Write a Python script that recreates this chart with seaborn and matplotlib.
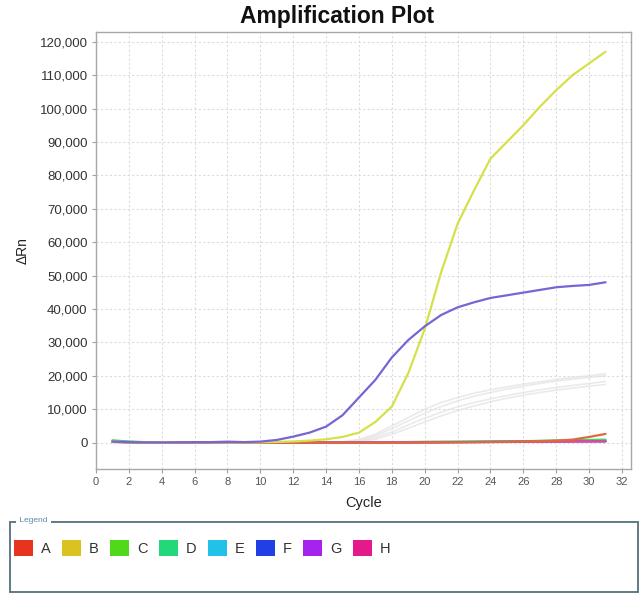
import numpy as np
import pandas as pd
import seaborn as sns
import matplotlib.pyplot as plt
from matplotlib.patches import Patch, Rectangle

cycles = list(range(1, 32))

# delta Rn per well
well_a = [200, 100, 50, 30, 50, 80, 50, 30, 20, 20, 20, 20, 20, 20, 20, 20,
          20, 20, 30, 50, 80, 100, 150, 200, 250, 350, 450, 600, 900, 1700, 2600]
well_b = [300, 150, 100, 50, 100, 150, 100, 50, 50, 100, 200, 350, 600, 1000, 1700, 3000,
          6200, 10800, 20800, 34000, 51000, 65500, 75500, 85000, 90000, 95000, 100500,
          105500, 110000, 113500, 117000]
well_c = [700, 300, 150, 100, 100, 150, 120, 100, 80, 80, 80, 80, 80, 80, 80, 100,
          100, 120, 150, 180, 200, 220, 250, 280, 320, 400, 500, 600, 700, 800, 900]
well_d = [500, 250, 120, 80, 100, 150, 120, 100, 80, 80, 80, 80, 80, 80, 100, 100,
          120, 150, 180, 200, 220, 250, 280, 320, 380, 450, 500, 550, 600, 650, 700]
well_e = [400, 200, 100, 80, 100, 120, 100, 80, 80, 80, 80, 80, 80, 80, 80, 80,
          100, 120, 150, 180, 200, 220, 250, 280, 300, 350, 380, 400, 420, 420, 420]
well_f = [300, 150, 100, 50, 100, 150, 150, 200, 150, 300, 800, 1800, 3000, 4800, 8200, 13500,
          18800, 25500, 30700, 34800, 38200, 40500, 42000, 43300, 44100, 44900, 45700,
          46500, 46900, 47200, 48000]
well_g = [300, 150, 80, 50, 80, 120, 150, 250, 150, 80, 60, 50, 50, 50, 50, 50,
          50, 60, 80, 100, 120, 150, 180, 200, 230, 260, 300, 330, 360, 380, 400]
well_h = [250, 120, 80, 50, 80, 100, 80, 60, 50, 50, 50, 50, 50, 50, 50, 50,
          50, 60, 80, 100, 120, 140, 160, 180, 200, 230, 260, 290, 320, 340, 360]

# faint grey traces of the wells that are not selected
grey_1 = [100] * 14 + [200, 1000, 2500, 5000, 7500, 10000, 12000, 13500, 14800, 15800,
                       16700, 17500, 18200, 18900, 19500, 20000, 20600]
grey_2 = [100] * 14 + [150, 700, 2000, 4200, 6500, 8800, 10800, 12500, 13900, 15000,
                       16000, 16900, 17700, 18400, 19000, 19500, 20000]
grey_3 = [100] * 15 + [500, 1500, 3200, 5300, 7300, 9100, 10700, 12000, 13100,
                       14100, 15000, 15800, 16500, 17100, 17700, 18300]
grey_4 = [100] * 15 + [300, 1000, 2500, 4300, 6200, 8000, 9600, 11000, 12200,
                       13300, 14200, 15000, 15700, 16300, 16900, 17400]

wells = ["A", "B", "C", "D", "E", "F", "G", "H"]
well_values = [well_a, well_b, well_c, well_d, well_e, well_f, well_g, well_h]
grey_values = [grey_1, grey_2, grey_3, grey_4]

line_colors = {"A": "#e0683a", "B": "#d6e04a", "C": "#5cd830", "D": "#28d890",
               "E": "#30c8e0", "F": "#7466d4", "G": "#9a50d8", "H": "#e04898"}
legend_colors = ["#e8341e", "#dcc21e", "#52d81a", "#22d87a",
                 "#22c2e8", "#2040e6", "#a424ee", "#e41a8a"]

df = pd.DataFrame({
    "Cycle": np.tile(cycles, len(wells)),
    "dRn": np.concatenate(well_values),
    "Well": np.repeat(wells, len(cycles)),
})
grey_df = pd.DataFrame({
    "Cycle": np.tile(cycles, len(grey_values)),
    "dRn": np.concatenate(grey_values),
    "Trace": np.repeat(range(len(grey_values)), len(cycles)),
})

sns.set_theme(style="white")
plt.rcParams["font.family"] = ["Liberation Sans", "DejaVu Sans"]

fig = plt.figure(figsize=(6.43, 6.02), dpi=100)
ax = fig.add_axes([0.1493, 0.2209, 0.8320, 0.7259])

sns.lineplot(data=grey_df, x="Cycle", y="dRn", units="Trace", estimator=None,
             color="#e2e2e2", alpha=0.7, linewidth=1.2, ax=ax, legend=False)
# draw the near-zero wells first, the two big curves on top
order = ["C", "D", "E", "G", "H", "A", "B", "F"]
for w in order:
    sns.lineplot(data=df[df["Well"] == w], x="Cycle", y="dRn", color=line_colors[w],
                 linewidth=1.6, ax=ax, legend=False)

ax.set_xlim(0, 32.55)
ax.set_ylim(-7900, 122900)
ax.set_xticks(range(0, 33, 2))
ax.set_yticks(range(0, 120001, 10000))
ax.set_yticklabels([f"{v:,}" for v in range(0, 120001, 10000)])
ax.grid(True, color="#dcdcdc", linestyle=(0, (2, 2)), linewidth=0.8)
for s in ax.spines.values():
    s.set_color("#a8a8a8")
    s.set_linewidth(1.0)
ax.tick_params(axis="both", which="major", length=3, width=0.8, color="#a0a0a0",
               labelsize=9.5, labelcolor="#333333", pad=3, bottom=True, left=True)
ax.tick_params(axis="x", labelsize=8, labelcolor="#555555")
ax.set_xlabel("Cycle", fontsize=10.5, color="#222222", labelpad=6)
ax.set_ylabel("\u0394Rn", fontsize=10, color="#222222", labelpad=7)

fig.text(0.524, 0.973, "Amplification Plot", ha="center", va="center",
         fontsize=16.5, fontweight="heavy", color="#111111")

# legend panel
fig.add_artist(Rectangle((10 / 643, 1 - 592 / 602), 628 / 643, 70 / 602,
                         transform=fig.transFigure, fill=False,
                         edgecolor="#56707c", linewidth=1.3))
fig.text(17 / 643, 1 - 521 / 602, " Legend ", ha="left", va="center", fontsize=6,
         color="#5a88a8", bbox=dict(facecolor="white", edgecolor="none", pad=0.5))
handles = [Patch(facecolor=c, edgecolor="none") for c in legend_colors]
fig.legend(handles, wells, loc="center left", bbox_to_anchor=(0.5 / 643, 1 - 548 / 602),
           ncol=8, frameon=False, fontsize=10.5, handlelength=1.3, handleheight=1.3,
           handletextpad=0.55, columnspacing=0.78, labelcolor="#333333")

fig.savefig("out.png", dpi=100)
